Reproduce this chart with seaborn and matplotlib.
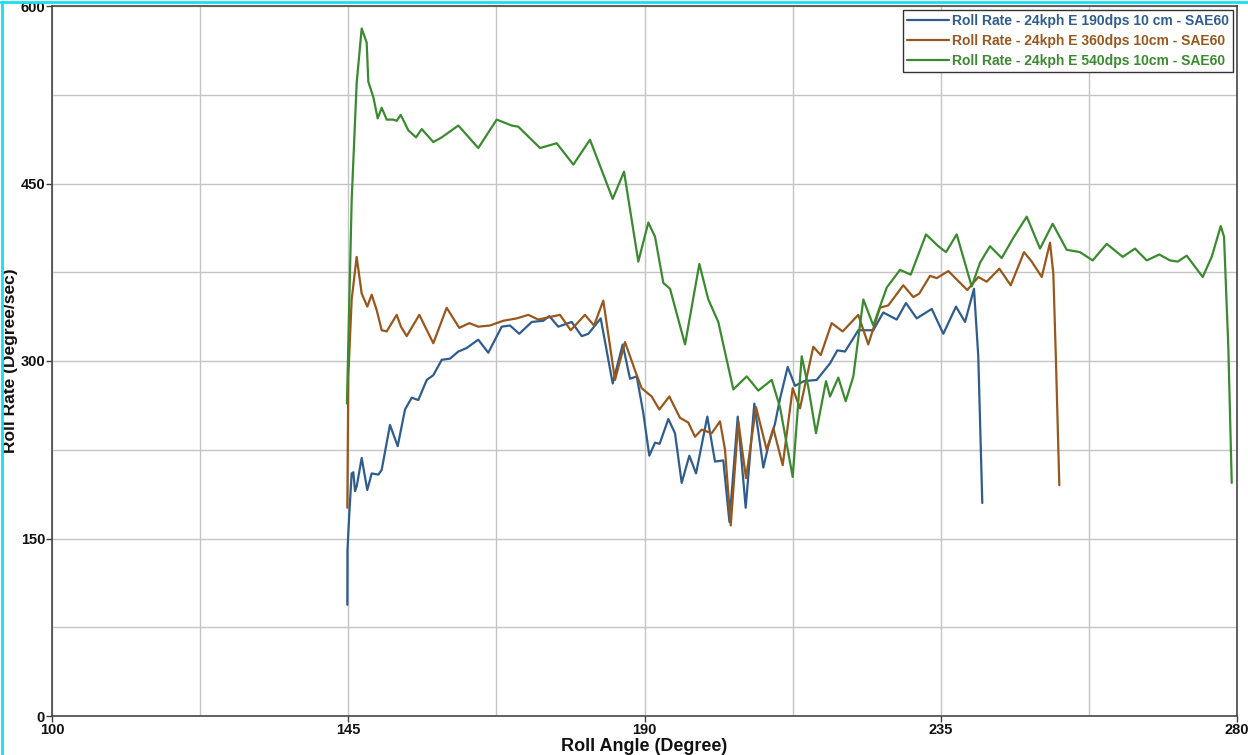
import numpy as np
import pandas as pd
import matplotlib
matplotlib.use("Agg")
import matplotlib.pyplot as plt
from matplotlib.lines import Line2D
import seaborn as sns

# Roll rate traces, three steering rates (x: roll angle in degree, y: roll rate in degree/sec)
angle_190 = [144.86, 144.88, 145.16, 145.52, 145.77, 146.03, 146.28, 147.04, 147.89, 148.56,
             149.57, 150.08, 151.34, 152.51, 153.62, 154.64, 155.64, 156.92, 157.92, 159.20,
             160.46, 161.72, 162.99, 164.75, 166.27, 168.31, 169.57, 170.98, 172.87, 174.63,
             175.54, 176.91, 178.94, 180.46, 181.47, 183.35, 185.17, 186.69, 187.80, 188.82,
             189.82, 190.73, 191.60, 192.30, 193.62, 194.63, 195.65, 196.81, 197.83, 199.54,
             200.71, 201.97, 202.90, 204.16, 205.37, 206.68, 208.05, 208.80, 209.82, 210.58,
             211.75, 212.86, 214.23, 216.16, 218.18, 219.29, 220.46, 222.48, 224.75, 226.27,
             228.31, 229.72, 231.35, 233.63, 235.39, 237.32, 238.69, 240.05, 240.70, 241.31]
rate_190 = [94, 140, 171, 205, 206, 190, 194, 218, 191, 205,
            204, 208, 246, 228, 259, 269, 267, 284, 288, 301,
            302, 308, 311, 318, 307, 329, 330, 323, 333, 334,
            338, 329, 333, 321, 323, 336, 281, 314, 285, 287,
            256, 220, 231, 230, 251, 239, 197, 220, 205, 253,
            215, 216, 164, 253, 176, 264, 210, 228, 247, 268,
            295, 279, 283, 284, 298, 309, 308, 326, 326, 341,
            335, 349, 336, 344, 323, 346, 333, 361, 304, 180]

angle_360 = [144.86, 145.01, 145.52, 146.28, 147.04, 147.89, 148.56, 149.32, 150.08, 150.84,
             152.36, 153.01, 153.88, 155.79, 157.92, 159.95, 161.87, 163.39, 164.75, 166.53,
             168.55, 170.59, 172.35, 173.87, 177.16, 178.79, 180.96, 182.33, 183.74, 185.52,
             187.04, 188.56, 189.57, 191.09, 192.25, 193.77, 195.39, 196.65, 197.67, 198.69,
             200.21, 201.47, 202.23, 203.10, 204.25, 205.42, 206.94, 208.56, 209.57, 210.99,
             212.51, 213.62, 215.64, 216.77, 218.43, 220.10, 222.47, 223.99, 225.77, 227.03,
             229.31, 230.83, 231.74, 233.37, 234.38, 236.15, 239.03, 240.71, 241.98, 243.90,
             245.63, 247.65, 248.82, 250.34, 251.60, 252.10, 252.51, 253.01]
rate_360 = [176, 287, 352, 388, 357, 346, 356, 343, 326, 325,
            339, 329, 321, 339, 315, 345, 328, 332, 329, 330,
            334, 336, 339, 335, 339, 326, 339, 330, 351, 284,
            316, 292, 277, 270, 259, 270, 252, 248, 236, 242,
            239, 249, 225, 161, 249, 201, 261, 225, 243, 212,
            277, 260, 312, 305, 332, 325, 339, 314, 345, 347,
            364, 354, 357, 372, 370, 376, 360, 371, 367, 378,
            364, 392, 384, 371, 400, 374, 298, 195]

angle_540 = [144.80, 145.52, 146.28, 147.04, 147.80, 148.05, 148.81, 149.47, 150.08, 150.84,
             151.84, 152.36, 152.97, 154.12, 155.29, 156.16, 157.92, 159.20, 161.72, 164.75,
             167.55, 169.83, 170.83, 174.13, 176.66, 179.19, 181.72, 185.17, 186.89, 189.06,
             190.58, 191.60, 192.86, 193.88, 196.16, 198.33, 199.69, 201.21, 203.49, 205.53,
             207.29, 209.32, 210.58, 212.51, 213.88, 214.88, 216.05, 217.57, 218.18, 219.44,
             220.56, 221.72, 223.24, 224.75, 226.79, 228.81, 230.44, 232.76, 234.63, 235.80,
             237.42, 239.70, 240.96, 242.48, 244.26, 246.02, 248.06, 250.08, 252.00, 254.13,
             256.15, 258.08, 260.21, 262.64, 264.51, 266.28, 268.20, 269.82, 270.99, 272.36,
             274.79, 276.16, 277.53, 278.03, 278.68, 279.20]
rate_540 = [264, 436, 535, 581, 569, 536, 523, 505, 514, 504,
            504, 503, 508, 495, 489, 496, 485, 489, 499, 480,
            504, 499, 498, 480, 484, 466, 487, 437, 460, 384,
            417, 405, 366, 361, 314, 382, 352, 333, 276, 287,
            275, 284, 261, 202, 304, 278, 239, 283, 270, 286,
            266, 287, 352, 330, 362, 377, 373, 407, 397, 392,
            407, 363, 383, 397, 387, 404, 422, 395, 416, 394,
            392, 385, 399, 388, 395, 385, 390, 385, 384, 389,
            371, 388, 414, 405, 312, 197]

series_names = ["Roll Rate - 24kph E 190dps 10 cm - SAE60",
                "Roll Rate - 24kph E 360dps 10cm - SAE60",
                "Roll Rate - 24kph E 540dps 10cm - SAE60"]
series_colors = ["#2e5d8e", "#98571c", "#3a8a2f"]

x_ticks = [100, 145, 190, 235, 280]
y_ticks = [0, 150, 300, 450, 600]

frames = []
for name, xs, ys in zip(series_names,
                        [angle_190, angle_360, angle_540],
                        [rate_190, rate_360, rate_540]):
    frames.append(pd.DataFrame({"angle": xs, "rate": ys, "series": name}))
data = pd.concat(frames, ignore_index=True)

sns.set_theme(style="white")
narrow = ["Liberation Sans Narrow", "Liberation Sans", "DejaVu Sans"]
plt.rcParams["font.family"] = ["Liberation Sans", "DejaVu Sans"]

fig = plt.figure(figsize=(12.48, 7.55), dpi=100)
ax = fig.add_axes([52 / 1248, 39 / 755, (1237 - 52) / 1248, (716 - 6) / 755])

sns.lineplot(data=data, x="angle", y="rate", hue="series",
             hue_order=series_names, palette=series_colors, estimator=None,
             sort=False, linewidth=1.6, legend=False, ax=ax,
             solid_joinstyle="round", solid_capstyle="round")

ax.set_xlim(100, 280)
ax.set_ylim(0, 600)
ax.set_xticks(x_ticks)
ax.set_yticks(y_ticks)
ax.set_xticks(np.arange(100, 281, 22.5), minor=True)
ax.set_yticks(np.arange(0, 601, 75), minor=True)
ax.grid(True, which="both", color="#c4c4c4", linewidth=1.0)
ax.set_axisbelow(True)
ax.tick_params(axis="both", which="major", length=4, width=1, color="#404040",
               direction="out", pad=1, labelsize=10.5, labelcolor="#111111")
ax.tick_params(axis="both", which="minor", length=0)
ax.tick_params(axis="x", bottom=True)
ax.tick_params(axis="y", left=True)
for lbl in ax.get_xticklabels() + ax.get_yticklabels():
    lbl.set_fontweight("bold")
    lbl.set_family(narrow)

for side in ["left", "bottom", "right", "top"]:
    ax.spines[side].set_visible(True)
    ax.spines[side].set_color("#454545")
    ax.spines[side].set_linewidth(1.2)

ax.set_xlabel("Roll Angle (Degree)", fontsize=13, fontweight="bold",
              family=narrow, color="#111111", labelpad=1)
ax.set_ylabel("Roll Rate (Degree/sec)", fontsize=12.5, fontweight="bold",
              family=narrow, color="#111111")
ax.yaxis.set_label_coords(-0.0285, 0.5)

handles = [Line2D([0], [0], color=c, linewidth=1.6) for c in series_colors]
leg = ax.legend(handles, series_names, loc="upper right", frameon=True,
                fancybox=False, edgecolor="#333333", framealpha=1,
                prop={"weight": "bold", "size": 10}, handlelength=3.0,
                handletextpad=0.2, borderpad=0.3, labelspacing=0.42,
                borderaxespad=0.3)
leg.get_frame().set_linewidth(1.0)
for txt, c in zip(leg.get_texts(), series_colors):
    txt.set_color(c)

# thin cyan frame along the left and top edges of the canvas
fig.add_artist(Line2D([0.0015, 0.0015], [0, 0.997], transform=fig.transFigure,
                      color="#16e0ec", linewidth=2))
fig.add_artist(Line2D([0, 1], [0.997, 0.997], transform=fig.transFigure,
                      color="#16e0ec", linewidth=2))

fig.savefig("out.png", dpi=100)
